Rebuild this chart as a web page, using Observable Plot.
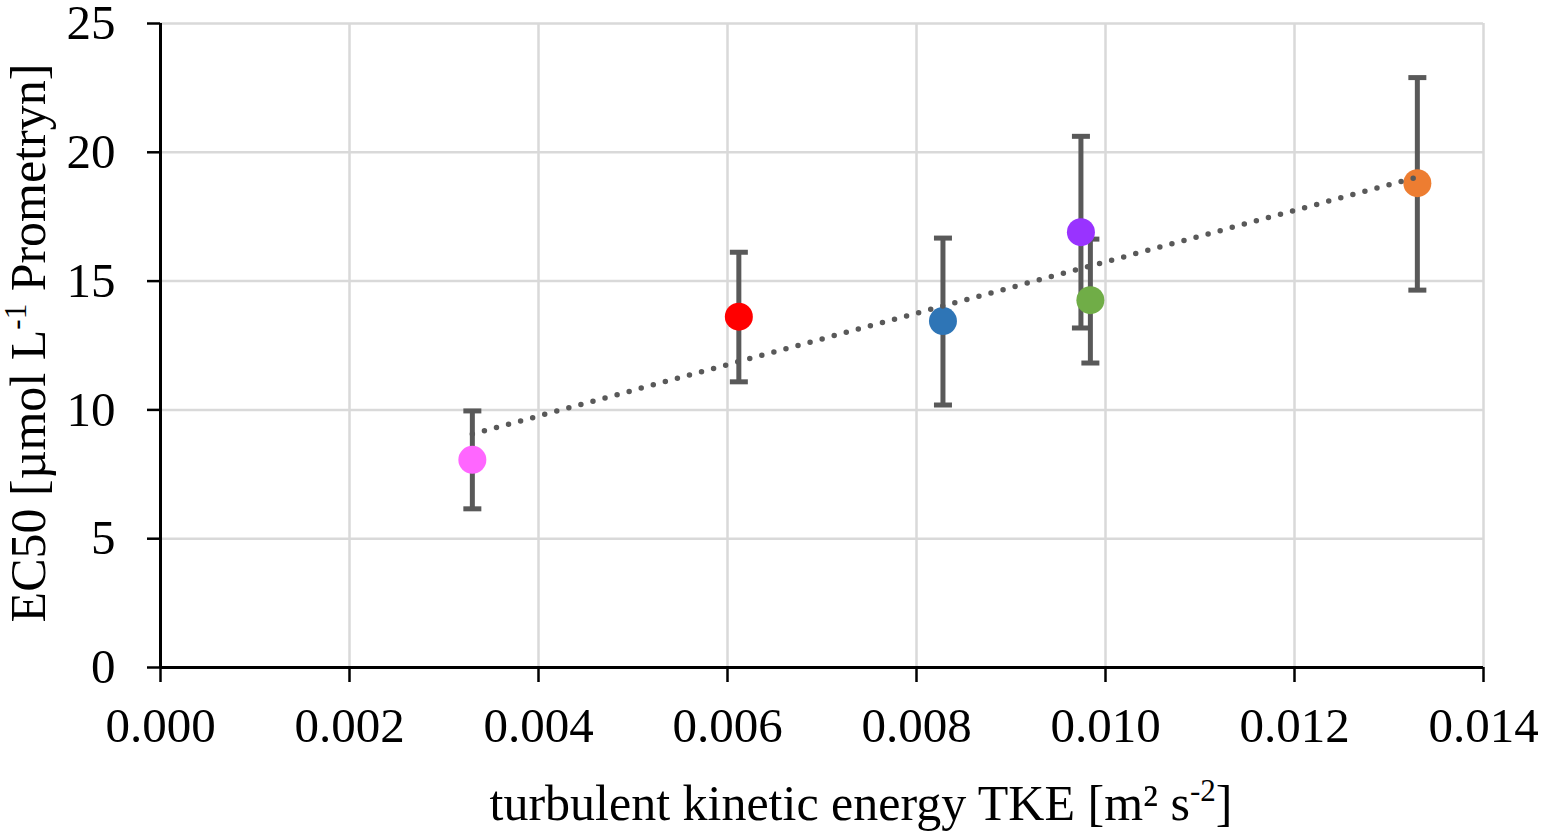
<!DOCTYPE html>
<html>
<head>
<meta charset="utf-8">
<script src="https://cdn.jsdelivr.net/npm/d3@7"></script>
<script src="https://cdn.jsdelivr.net/npm/@observablehq/plot@0.6"></script>
<style>
  html, body { margin: 0; padding: 0; background: #fff; }
  #chart svg { display: block; overflow: visible; }
</style>
</head>
<body>
<div id="chart"></div>
<script>
// Data
const tke     = [0.0033, 0.00612, 0.00828, 0.00974, 0.00984, 0.0133];
const ec50    = [8.06, 13.62, 13.45, 16.9, 14.26, 18.8];
const errLow  = [6.16, 11.09, 10.19, 13.18, 11.82, 14.65];
const errHigh = [9.96, 16.12, 16.67, 20.62, 16.63, 22.9];
const colors  = ["#ff66ff", "#ff0000", "#2e75b6", "#9933ff", "#70ad47", "#ed7d31"];
const xTicks  = [0, 0.002, 0.004, 0.006, 0.008, 0.010, 0.012, 0.014];
const yTicks  = [0, 5, 10, 15, 20, 25];

const data = tke.map((x, i) => ({x, y: ec50[i], lo: errLow[i], hi: errHigh[i], color: colors[i]}));

const font = "Liberation Serif, Times New Roman, serif";
const grey = "#595959";

// horizontal line symbol for error-bar caps
const capSymbol = {
  draw(context, size) {
    const w = Math.sqrt(size / Math.PI);
    context.moveTo(-w, 0);
    context.lineTo(w, 0);
  }
};

const plot = Plot.plot({
  width: 1549,
  height: 837,
  marginLeft: 160,
  marginRight: 66,
  marginTop: 23,
  marginBottom: 170,
  style: {fontFamily: font, background: "#fff", overflow: "visible"},
  x: {domain: [0, 0.014]},
  y: {domain: [0, 25]},
  color: {type: "identity"},
  marks: [
    Plot.gridX({ticks: xTicks, stroke: "#d9d9d9", strokeOpacity: 1, strokeWidth: 2.5}),
    Plot.gridY({ticks: yTicks, stroke: "#d9d9d9", strokeOpacity: 1, strokeWidth: 2.5}),
    Plot.axisX({ticks: xTicks, tickFormat: d3.format(".3f"), tickSize: 15, tickPadding: 25,
      label: null, fontSize: 49, fontFamily: font, color: "black", strokeWidth: 2.5}),
    Plot.axisY({ticks: yTicks, tickSize: 13, tickPadding: 32,
      label: null, fontSize: 49, fontFamily: font, color: "black", strokeWidth: 2.5}),
    Plot.ruleX([0], {stroke: "black", strokeWidth: 3}),
    Plot.ruleY([0], {stroke: "black", strokeWidth: 3}),
    Plot.ruleX(data, {x: "x", y1: "lo", y2: "hi", stroke: grey, strokeWidth: 5}),
    Plot.dot(data, {x: "x", y: "hi", symbol: capSymbol, r: 9, stroke: grey, strokeWidth: 5, fill: "none"}),
    Plot.dot(data, {x: "x", y: "lo", symbol: capSymbol, r: 9, stroke: grey, strokeWidth: 5, fill: "none"}),
    Plot.dot(data, {x: "x", y: "y", r: 14, fill: "color"}),
    Plot.linearRegressionY(data, {x: "x", y: "y", ci: 0, stroke: grey, strokeWidth: 5.5,
      strokeDasharray: "0,12.5", strokeLinecap: "round"})
  ]
});

document.getElementById("chart").appendChild(plot);

const svg = d3.select(plot);

// Y axis title with superscript
const yt = svg.append("text")
  .attr("transform", "translate(45,343) rotate(-90)")
  .attr("text-anchor", "middle")
  .attr("font-family", font)
  .attr("font-size", 50)
  .attr("fill", "black");
yt.append("tspan").text("EC50 [µmol L");
yt.append("tspan").attr("font-size", 31).attr("dy", -19).text("-1");
yt.append("tspan").attr("dy", 19).text(" Prometryn]");

// X axis title with superscript
const xt = svg.append("text")
  .attr("x", 861)
  .attr("y", 820)
  .attr("text-anchor", "middle")
  .attr("font-family", font)
  .attr("font-size", 50)
  .attr("fill", "black");
xt.append("tspan").text("turbulent kinetic energy TKE [m² s");
xt.append("tspan").attr("font-size", 31).attr("dy", -19).text("-2");
xt.append("tspan").attr("dy", 19).text("]");
</script>
</body>
</html>
